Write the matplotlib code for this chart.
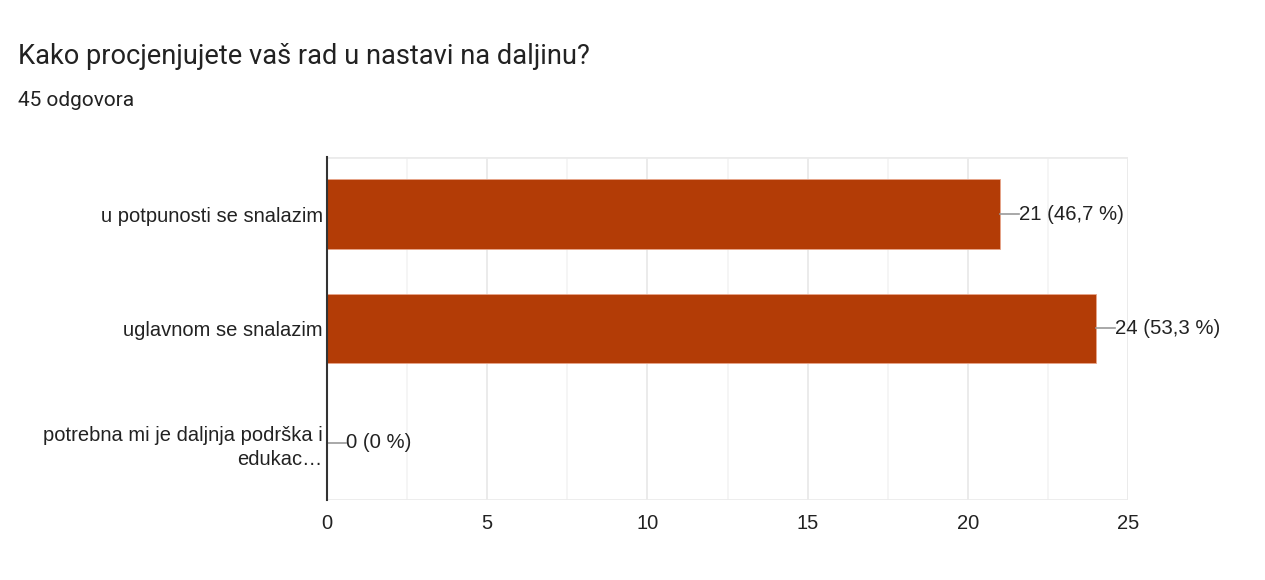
import numpy as np
import matplotlib.pyplot as plt

# podaci
kategorije = ["u potpunosti se snalazim", "uglavnom se snalazim",
              "potrebna mi je daljnja podrška i\nedukac…"]
odgovori = [21, 24, 0]
postoci = ["46,7", "53,3", "0"]

naslov = "Kako procjenjujete vaš rad u nastavi na daljinu?"
podnaslov = "45 odgovora"

plt.rcParams['font.family'] = ['Liberation Sans', 'DejaVu Sans']

fig = plt.figure(figsize=(12.65, 5.8), dpi=100)
ax = fig.add_axes([327/1265, 1-500/580, 801/1265, 343/580])

boja = "#b33c06"
tekst = "#222222"

y = np.arange(len(kategorije))
ax.barh(y, odgovori, height=0.61, color=boja, edgecolor="#e8a58a", linewidth=0.6, zorder=3)

ax.set_xlim(0, 25)
ax.set_ylim(2.5, -0.5)

# mreza
for xv in np.arange(2.5, 25.1, 2.5):
    c = "#e8e8e8" if xv % 5 == 0 else "#f3f3f3"
    ax.axvline(xv, color=c, lw=1.2, zorder=1)
ax.axhline(-0.5, color="#ebebeb", lw=2, zorder=1)
ax.axhline(2.5, color="#ebebeb", lw=2, zorder=1)

for s in ["top", "right", "bottom"]:
    ax.spines[s].set_visible(False)
ax.spines["left"].set_color("#333333")
ax.spines["left"].set_linewidth(1.5)
ax.spines["left"].set_zorder(5)

ax.set_xticks([0, 5, 10, 15, 20, 25])
ax.tick_params(axis="x", length=0, labelsize=14.5, colors=tekst, pad=10)
ax.set_yticks(y)
ax.set_yticklabels(kategorije, ha="right", linespacing=1.35)
ax.tick_params(axis="y", length=0, labelsize=14.5, colors=tekst, pad=3)

# oznake vrijednosti
for i in range(len(odgovori)):
    x0 = odgovori[i]
    ax.plot([x0, x0 + 0.6], [i, i], color="#999999", lw=1.2, zorder=4, clip_on=False)
    ax.text(x0 + 0.6, i, "%d (%s %%)" % (odgovori[i], postoci[i]), va="center", ha="left",
            fontsize=14.7, color=tekst, zorder=4)

fig.text(18/1265, 1-57/580, naslov, fontsize=19.6, color=tekst, va="center", ha="left",
         family=["Roboto", "DejaVu Sans"])
fig.text(18/1265, 1-101/580, podnaslov, fontsize=15, color=tekst, va="center", ha="left",
         family=["Roboto", "DejaVu Sans"])

plt.savefig("out.png", dpi=100)
plt.close()
